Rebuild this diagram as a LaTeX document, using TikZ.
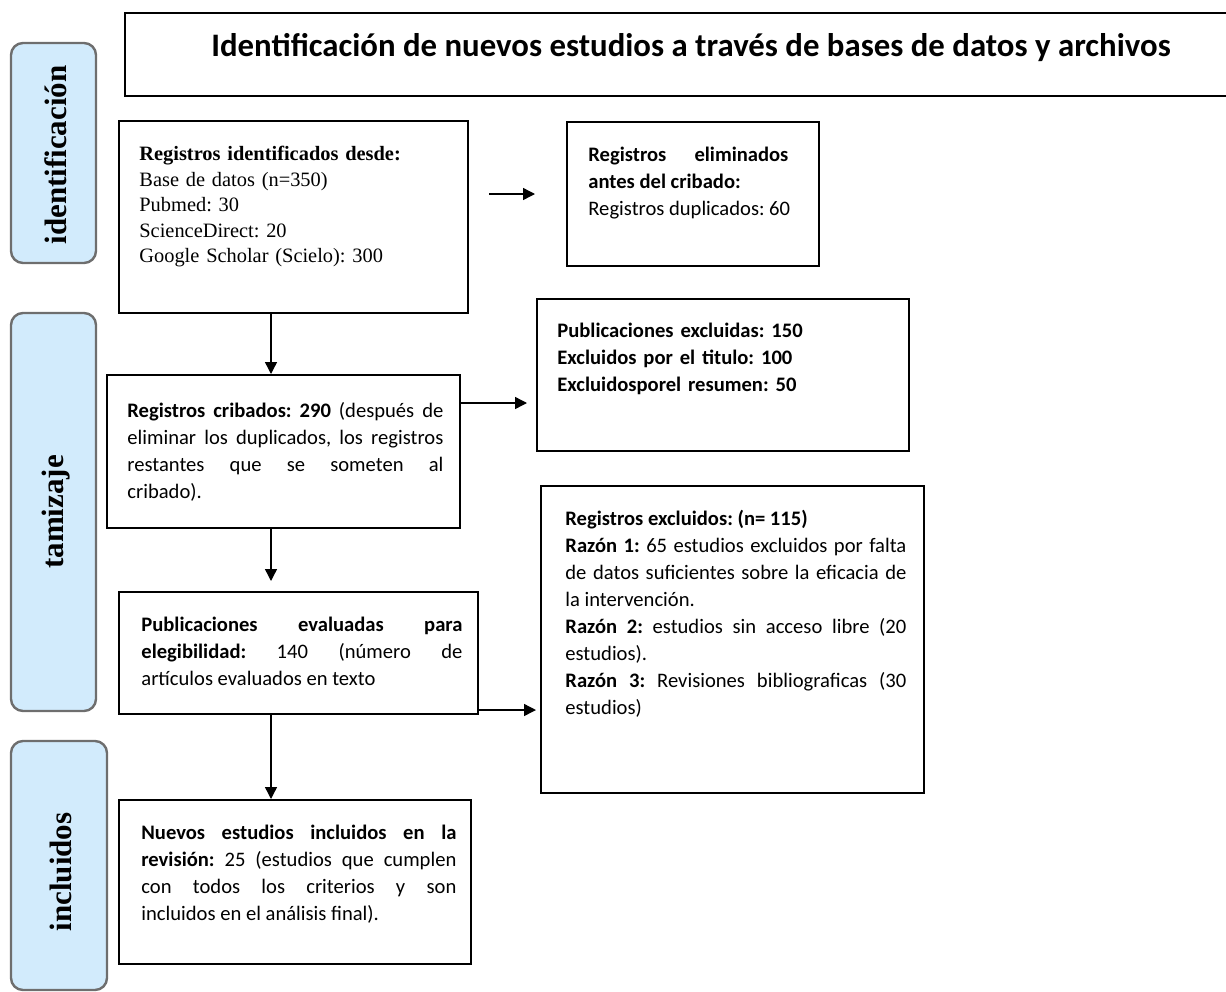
\documentclass[tikz,border=0pt]{standalone}
\usepackage{fontspec}
\setmainfont{Carlito}
\newfontfamily\timesfont{Liberation Serif}
\usepackage{tikz}
\usetikzlibrary{arrows.meta,fit,positioning}
\frenchspacing
\definecolor{pillfill}{HTML}{D2EBFC}
\definecolor{pillline}{HTML}{6E6E6E}
\tikzset{
    box/.style={
           rectangle,
           draw=black, line width=1pt,
           inner sep=0pt,
           },
}
\tikzset{
    pill/.style={
           rectangle, rounded corners=6pt,
           draw=pillline, line width=1.2pt,
           fill=pillfill,
           inner sep=0pt,
           },
}
\tikzset{
    stage/.style={
           rotate=90,
           font=\timesfont\fontsize{15.5}{18}\selectfont\bfseries,
           inner sep=0pt,
           },
}
\tikzset{
    txt/.style={
           anchor=north west,
           inner sep=0pt,
           align=justify,
           font=\fontsize{10.3}{13.5}\selectfont,
           },
}
\tikzset{
    arr/.style={
           -{Triangle[length=6pt,width=6pt]},
           line width=0.7pt,
           },
}

\begin{document}
\begin{tikzpicture}[x=0.5pt,y=-0.5pt]
\useasboundingbox (0,0) rectangle (1226,991);
\node[pill, fit={(11,43) (96,263)}] (pident) {};
\node[pill, fit={(11,313) (96,711)}] (ptamiz) {};
\node[pill, fit={(11,741) (107,990)}] (pincl) {};
\node[stage] at (56,155) {identificación};
\node[stage] at (56,512) {tamizaje};
\node[stage] at (61,872) {incluidos};
\node[box, line width=1.2pt, fit={(125,13) (1240,96)}] (title) {};
\node[font=\fontsize{16.4}{19}\selectfont\bfseries, anchor=base] at (691,56) {Identificación de nuevos estudios a través de bases de datos y archivos};
\node[box, fit={(119,121) (468,313)}] (ident) {};
\node[box, fit={(567,122) (819,266)}] (elim) {};
\node[box, fit={(107,375) (460,528)}] (crib) {};
\node[box, fit={(537,299) (909,451)}] (excl) {};
\node[box, fit={(119,592) (478,714)}] (eval) {};
\node[box, fit={(541,486) (924,793)}] (razon) {};
\node[box, fit={(119,800) (471,964)}] (incl) {};
\node[txt, align=left, text width=160pt, font=\timesfont\fontsize{10.2}{12.75}\selectfont] at (139,146)
     {\textbf{Registros identificados desde:}\\ Base de datos (n=350)\\ Pubmed: 30\\ ScienceDirect: 20\\ Google Scholar (Scielo): 300};
\node[txt, text width=100pt] at (588,147)
     {\textbf{Registros eliminados\linebreak antes del cribado:}\\ \mbox{Registros duplicados: 60}};
\node[txt, align=left, text width=170pt, font=\fontsize{10.3}{13.5}\selectfont\bfseries] at (557,323)
     {Publicaciones excluidas: 150\\ Excluidos por el titulo: 100\\ Excluidosporel resumen: 50};
\node[txt, text width=170.5pt] at (565,510)
     {\textbf{Registros excluidos: (n= 115)}\\ \textbf{Razón 1:} 65 estudios excluidos por falta\linebreak de datos suficientes sobre la eficacia de\linebreak la intervención.\\ \textbf{Razón 2:} estudios sin acceso libre (20\linebreak estudios).\\ \textbf{Razón 3:} Revisiones bibliograficas (30\linebreak estudios)};
\node[txt, text width=158pt] at (127,402)
     {\textbf{Registros cribados: 290} (después de\linebreak eliminar los duplicados, los registros\linebreak restantes que se someten al\linebreak cribado).};
\node[txt, text width=160.5pt] at (141,617)
     {\textbf{Publicaciones evaluadas para\linebreak elegibilidad:} 140 (número de\linebreak artículos evaluados en texto};
\node[txt, text width=157.5pt] at (141,825)
     {\textbf{Nuevos estudios incluidos en la\linebreak revisión:} 25 (estudios que cumplen\linebreak con todos los criterios y son\linebreak incluidos en el análisis final).};
\coordinate (spine) at (271,0);
\coordinate (rowA) at (0,403);
\coordinate (rowB) at (0,710);
\draw[arr, shorten <=10pt, shorten >=15.5pt] (ident.east |- elim.west) -- (elim.west);
\draw[arr] (spine |- ident.south) -- (spine |- crib.north);
\draw[arr, shorten >=4.5pt] (crib.east |- rowA) -- (excl.west |- rowA);
\draw[arr, shorten >=5pt] (spine |- crib.south) -- (spine |- eval.north);
\draw[arr, shorten >=2pt] (eval.east |- rowB) -- (razon.west |- rowB);
\draw[arr] (spine |- eval.south) -- (spine |- incl.north);
\end{tikzpicture}
\end{document}
